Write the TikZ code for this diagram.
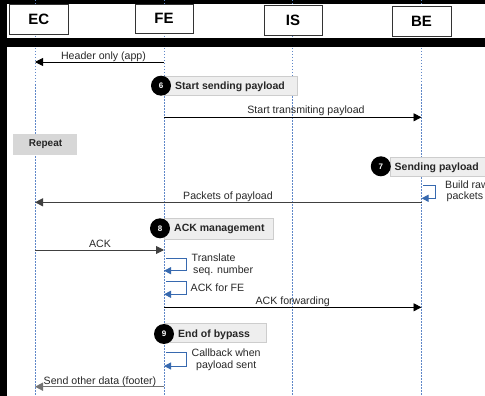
\documentclass[tikz,border=0pt]{standalone}
\usepackage{fontspec}
\setmainfont{Liberation Sans}
\usetikzlibrary{arrows.meta}
\definecolor{lifeblue}{RGB}{95,135,200}
\definecolor{loopblue}{RGB}{55,105,175}
\definecolor{txt}{RGB}{40,40,40}
\definecolor{actfill}{RGB}{238,238,238}
\definecolor{actdraw}{RGB}{205,205,205}
\definecolor{repfill}{RGB}{215,215,215}
\begin{document}
\begin{tikzpicture}[x=1pt,y=-1pt,
 head/.style={draw=black!80, fill=white, line width=0.8pt, inner sep=0, font=\fontsize{15}{15}\selectfont\bfseries},
 lifeline/.style={draw=lifeblue, line width=0.6pt, dash pattern=on 1.5pt off 1.5pt},
 msg/.style={draw=black, line width=0.9pt, -{Triangle[length=8pt,width=8pt]}},
 lbl/.style={font=\fontsize{10.6}{11}\selectfont, text=txt, inner sep=0, anchor=base},
 loopl/.style={font=\fontsize{10.6}{11.8}\selectfont, text=txt, inner sep=0, align=left, anchor=north west},
 act/.style={fill=actfill, draw=actdraw, line width=0.6pt},
 acttxt/.style={font=\fontsize{10.5}{12}\selectfont\bfseries, text=black!85, anchor=base west, inner sep=0},
 num/.style={circle, fill=black, minimum size=20pt, inner sep=0, text=white, font=\fontsize{8}{8}\selectfont\bfseries},
 selfloop/.style={draw=loopblue, line width=1pt, -{Triangle[length=7pt,width=7pt]}},
]
\useasboundingbox (0,0) rectangle (485,396);
\fill[white] (0,0) rectangle (485,396);
\fill[black] (0,0) rectangle (485,4);
% lifelines
\foreach \n/\x in {EC/35,FE/164,IS/292.5,BE/421.5}{
  \coordinate (\n top) at (\x,0);
  \coordinate (\n bot) at (\x,396);
  \draw[lifeline] (\n top) -- (\n bot);
}
\fill[black] (0,0) rectangle (6.5,396);
\fill[black] (0,38) rectangle (485,47.5);
% heads
\node[head, minimum width=58.5pt, minimum height=30.3pt] (EC) at (38.75,19.2) {EC};
\node[head, minimum width=58pt, minimum height=29.3pt] (FE) at (164,18.7) {FE};
\node[head, minimum width=58pt, minimum height=30pt] (IS) at (293,20) {IS};
\node[head, minimum width=59pt, minimum height=29.3pt] (BE) at (421.5,21.3) {BE};

% message 1
\coordinate (m1s) at (164,62); \coordinate (m1e) at (35,62);
\draw[msg] (m1s) -- (m1e);
\node[lbl] (l1) at (103.5,59.5) {Header only (app)};

% action 6
\draw[act] (164,76) rectangle (297,95.3);
\node[num] (n6) at (161,85.7) {6};
\node[acttxt] (a6) at (175,89) {Start sending payload};

% message 2
\coordinate (m2s) at (164,117.3); \coordinate (m2e) at (421.5,117.3);
\draw[msg] (m2s) -- (m2e);
\node[lbl] (l2) at (306,113.5) {Start transmiting payload};

% repeat
\fill[repfill] (13,134) rectangle (77,155);
\node[font=\fontsize{10}{10}\selectfont\bfseries, text=black!85, inner sep=0] (rep) at (45.5,144.5) {Repeat};

% action 7
\draw[act] (390,157) rectangle (492,176.7);
\node[num] (n7) at (380.8,166.3) {7};
\node[acttxt] (a7) at (394.5,170) {Sending payload};

% self loop build raw packets
\coordinate (b1) at (423,185); \coordinate (b2) at (421.5,198.3);
\draw[selfloop] (b1) -- (435.7,185) |- (b2);
\node[loopl] (lb) at (445,180.5) {Build raw\\[-0.8pt]\hspace{1.5pt}packets};

% message packets
\coordinate (m3s) at (421.5,202.3); \coordinate (m3e) at (35,202.3);
\draw[msg, draw=black!75, line width=1.1pt] (m3s) -- (m3e);
\node[lbl] (l3) at (228,199.5) {Packets of payload};

% action 8
\draw[act] (164,218.3) rectangle (273.3,239);
\node[num] (n8) at (160,228.3) {8};
\node[acttxt] (a8) at (174,231.5) {ACK management};

% message ACK
\coordinate (m4s) at (35,250); \coordinate (m4e) at (164,250);
\draw[msg, draw=black!75] (m4s) -- (m4e);
\node[lbl] (l4) at (100,247.5) {ACK};

% self loop translate
\coordinate (t1) at (166,258.3); \coordinate (t2) at (164,270.7);
\draw[selfloop] (t1) -- (186.7,258.3) |- (t2);
\node[loopl] (lt) at (191.5,253.5) {Translate\\\hspace{1.5pt}seq. number};

% self loop ACK for FE
\coordinate (f1) at (166,281.7); \coordinate (f2) at (164,294.3);
\draw[selfloop] (f1) -- (186.7,281.7) |- (f2);
\node[lbl, anchor=base west] (lf) at (190.5,291.5) {ACK for FE};

% message ACK forwarding
\coordinate (m5s) at (164,307.3); \coordinate (m5e) at (421.5,307.3);
\draw[msg] (m5s) -- (m5e);
\node[lbl] (l5) at (292.7,304) {ACK forwarding};

% action 9
\draw[act] (164,323.3) rectangle (266,342.7);
\node[num] (n9) at (164,334) {9};
\node[acttxt] (a9) at (178,337.5) {End of bypass};

% self loop callback
\coordinate (c1) at (166,352.3); \coordinate (c2) at (164,366);
\draw[selfloop] (c1) -- (186.7,352.3) |- (c2);
\node[loopl, align=center] (lc) at (191.5,348.5) {Callback when\\payload sent};

% message footer
\coordinate (m6s) at (164,386.7); \coordinate (m6e) at (35,386.7);
\draw[msg, draw=black!55, line width=1.5pt] (m6s) -- (m6e);
\node[lbl] (l6) at (100,384) {Send other data (footer)};
\end{tikzpicture}
\end{document}
